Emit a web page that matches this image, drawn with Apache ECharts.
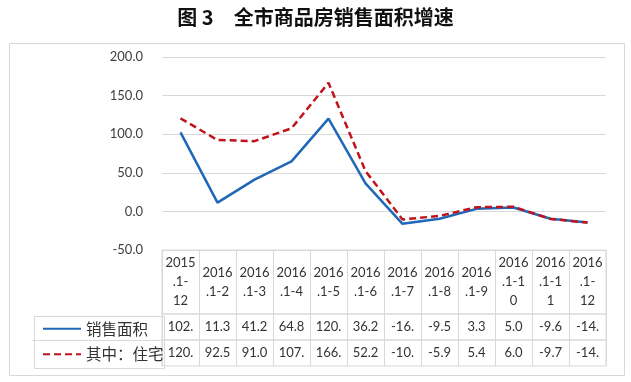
<!DOCTYPE html>
<html>
<head>
<meta charset="utf-8">
<style>
  html, body { margin: 0; padding: 0; background: #ffffff; }
  #chart { width: 631px; height: 382px; }
</style>
<script src="https://cdn.jsdelivr.net/npm/echarts@6/dist/echarts.min.js"></script>
</head>
<body>
<div id="chart"></div>
<script>
// ---- data ----
var categories = [
  '2015\n.1-\n12', '2016\n.1-2', '2016\n.1-3', '2016\n.1-4', '2016\n.1-5', '2016\n.1-6',
  '2016\n.1-7', '2016\n.1-8', '2016\n.1-9', '2016\n.1-1\n0', '2016\n.1-1\n1', '2016\n.1-\n12'
];
var salesArea = [102.3, 11.3, 41.2, 64.8, 120.2, 36.2, -16.1, -9.5, 3.3, 5.0, -9.6, -14.3];
var residential = [120.5, 92.5, 91.0, 107.6, 166.6, 52.2, -10.4, -5.9, 5.4, 6.0, -9.7, -14.5];
var seriesNames = ['销售面积', '其中：住宅'];
var yTicks = { min: -50, max: 200, interval: 50 };
var titleText = '图 3\u3000全市商品房销售面积增速';

// ---- chart ----
var numFont = 'Lato, "Liberation Sans", sans-serif';
var cjkFont = '"Noto Sans CJK SC", sans-serif';
var gridColor = '#d9d9d9';
var textColor = '#333333';

function cellText(v) { return v.toFixed(1).slice(0, 4); }

var L = 162, W = 444;
var rows = [
  { top: 250, height: 64, fmt: function (v, i) { return categories[i]; } },
  { top: 314, height: 26, fmt: function (v, i) { return cellText(salesArea[i]); } },
  { top: 340, height: 26, fmt: function (v, i) { return cellText(residential[i]); } }
];

var grids = [{ left: L, top: 57, width: W, height: 193, outerBoundsMode: 'none', containLabel: false }];
var xAxes = [{
  type: 'category', gridIndex: 0, data: categories, boundaryGap: true,
  axisLine: { show: false }, axisTick: { show: false }, axisLabel: { show: false },
  splitLine: { show: false }
}];
var yAxes = [{
  type: 'value', gridIndex: 0, min: yTicks.min, max: yTicks.max, interval: yTicks.interval,
  axisLine: { show: false }, axisTick: { show: false },
  axisLabel: { formatter: function (v) { return v.toFixed(1); }, margin: 19,
    fontFamily: numFont, fontSize: 13, color: '#404040' },
  splitLine: { show: true, lineStyle: { color: gridColor, width: 1 } }
}];

rows.forEach(function (r, k) {
  var gi = k + 1;
  grids.push({ left: L, top: r.top, width: W, height: r.height, show: true,
    borderColor: gridColor, borderWidth: 1, backgroundColor: 'transparent',
    outerBoundsMode: 'none', containLabel: false });
  xAxes.push({
    type: 'category', gridIndex: gi, position: 'top', data: categories, boundaryGap: true,
    axisLine: { show: false }, axisTick: { show: false },
    splitLine: { show: true, interval: 0, lineStyle: { color: gridColor, width: 1 } },
    axisLabel: { inside: true, margin: r.height / 2, verticalAlign: 'middle', interval: 0,
      formatter: r.fmt, fontFamily: numFont, fontSize: 13, lineHeight: 19, color: textColor }
  });
  yAxes.push({ type: 'value', gridIndex: gi, show: false });
});

var chart = echarts.init(document.getElementById('chart'), null, { renderer: 'canvas' });
chart.setOption({
  animation: false,
  backgroundColor: '#ffffff',
  title: {
    text: titleText, left: 'center', top: 2,
    textStyle: { fontFamily: cjkFont, fontSize: 20, fontWeight: 'bold', color: '#111111' }
  },
  legend: {
    orient: 'vertical', left: 37, top: 316, itemGap: 10, itemWidth: 38, itemHeight: 14,
    selectedMode: false, data: seriesNames,
    itemStyle: { opacity: 0, color: 'transparent', borderWidth: 0 },
    textStyle: { fontFamily: cjkFont, fontSize: 15.5, color: textColor }
  },
  grid: grids,
  xAxis: xAxes,
  yAxis: yAxes,
  graphic: [
    { type: 'rect', left: 7, top: 41, shape: { width: 615, height: 332 }, silent: true,
      style: { fill: 'none', stroke: gridColor, lineWidth: 1 } },
    { type: 'rect', left: 32, top: 314, shape: { width: 130, height: 52 }, silent: true,
      style: { fill: 'none', stroke: gridColor, lineWidth: 1 } },
    { type: 'line', shape: { x1: 32, y1: 340.5, x2: 162, y2: 340.5 }, silent: true,
      style: { stroke: gridColor, lineWidth: 1 } }
  ],
  series: [
    { name: seriesNames[0], type: 'line', xAxisIndex: 0, yAxisIndex: 0, data: salesArea,
      symbol: 'none', smooth: false, color: '#1f67b9',
      lineStyle: { color: '#1f67b9', width: 2.5 } },
    { name: seriesNames[1], type: 'line', xAxisIndex: 0, yAxisIndex: 0, data: residential,
      symbol: 'none', smooth: false, color: '#c0141c',
      lineStyle: { color: '#c0141c', width: 2.5, type: [7, 4] } }
  ]
});
</script>
</body>
</html>
